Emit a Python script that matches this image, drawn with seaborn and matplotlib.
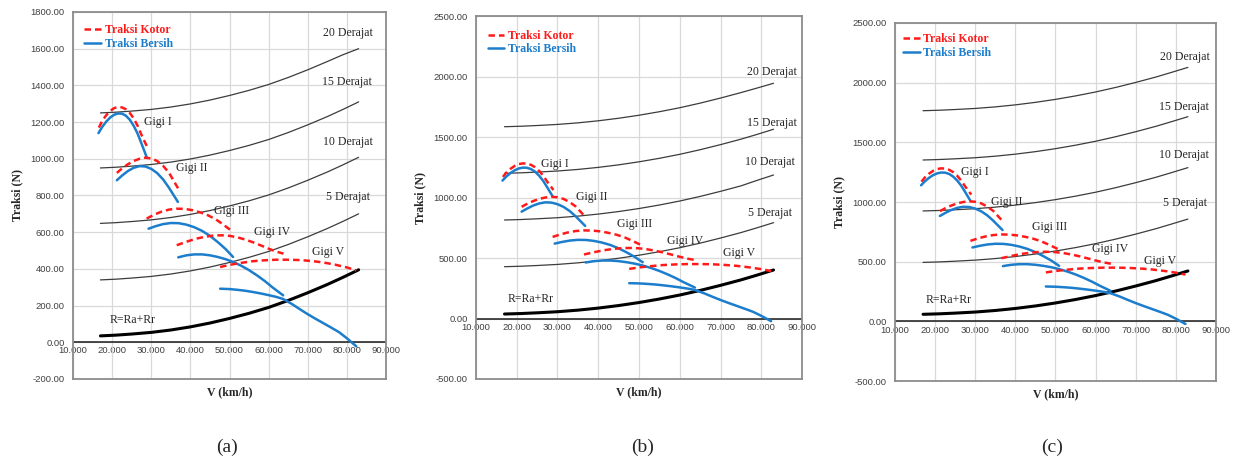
import matplotlib
matplotlib.use("Agg")
import matplotlib.pyplot as plt
import seaborn as sns

# kecepatan untuk kurva tahanan / tanjakan
V_slope = [17, 21, 25, 30, 35, 40, 45, 50, 55, 60, 65, 70, 75, 79, 83]

# panel (a)
R_a = [35, 39, 45, 54, 67, 84, 105, 130, 158, 190, 228, 270, 315, 354, 395]
d5_a = [340, 344, 350, 359, 372, 389, 410, 435, 463, 495, 533, 575, 620, 659, 700]
d10_a = [648, 652, 658, 667, 680, 697, 718, 743, 771, 803, 841, 883, 928, 967, 1008]
d15_a = [950, 954, 960, 969, 982, 999, 1020, 1045, 1073, 1105, 1143, 1185, 1230, 1269, 1310]
d20_a = [1250, 1254, 1260, 1269, 1282, 1299, 1320, 1345, 1373, 1405, 1443, 1485, 1530, 1567, 1600]

# panel (b)
R_b = [37, 41, 47, 56, 69, 86, 107, 132, 161, 194, 232, 274, 319, 359, 401]
d5_b = [428, 432, 438, 447, 460, 477, 498, 523, 552, 585, 623, 665, 710, 750, 792]
d10_b = [814, 818, 824, 833, 846, 863, 884, 909, 938, 971, 1009, 1051, 1096, 1142, 1186]
d15_b = [1200, 1204, 1210, 1219, 1232, 1249, 1270, 1295, 1324, 1357, 1395, 1437, 1482, 1522, 1564]
d20_b = [1585, 1589, 1595, 1604, 1617, 1634, 1655, 1680, 1709, 1742, 1780, 1822, 1867, 1905, 1944]

# panel (c)
R_c = [59, 63, 69, 78, 91, 108, 129, 154, 183, 216, 254, 296, 341, 381, 422]
d5_c = [494, 498, 504, 513, 526, 543, 564, 589, 618, 651, 689, 731, 776, 816, 857]
d10_c = [925, 929, 935, 944, 957, 974, 995, 1020, 1049, 1082, 1120, 1162, 1207, 1247, 1288]
d15_c = [1352, 1356, 1362, 1371, 1384, 1401, 1422, 1447, 1476, 1509, 1547, 1589, 1634, 1674, 1715]
d20_c = [1765, 1769, 1775, 1784, 1797, 1814, 1835, 1860, 1889, 1922, 1960, 2002, 2047, 2087, 2128]

# traksi per gigi (sama untuk ketiga panel)
V1_bersih = [16.5, 17.5, 18.5, 19.5, 20.5, 21.5, 22.5, 23.5, 24.5, 25.5, 26.5, 27.5, 28.8]
T1_bersih = [1140, 1175, 1203, 1225, 1240, 1247, 1246, 1235, 1213, 1180, 1137, 1083, 1010]
V1_kotor = [16.6, 17.5, 18.5, 19.5, 20.5, 21.5, 22.5, 23.5, 24.5, 25.5, 26.5, 27.5, 29.0]
T1_kotor = [1170, 1208, 1238, 1261, 1276, 1282, 1280, 1270, 1250, 1220, 1180, 1130, 1062]

V2_bersih = [21.2, 22.5, 24, 25.5, 27, 28.5, 30, 31.5, 33, 34.5, 36.8]
T2_bersih = [883, 908, 933, 951, 960, 958, 945, 922, 888, 843, 765]
V2_kotor = [21.2, 22.5, 24, 25.5, 27, 28.5, 30, 31.5, 33, 34.5, 36.9]
T2_kotor = [923, 947, 970, 988, 1000, 1006, 1002, 988, 962, 925, 837]

V3_bersih = [29.3, 31, 33, 35, 37, 39, 41, 43, 45, 47, 49, 50.9]
T3_bersih = [619, 632, 644, 650, 649, 641, 627, 607, 580, 546, 508, 465]
V3_kotor = [28.8, 30.5, 32.5, 34.5, 36.5, 38.5, 40.5, 42.5, 44.5, 46.5, 48.5, 50.9]
T3_kotor = [674, 693, 711, 723, 728, 727, 720, 708, 692, 670, 640, 601]

V4_bersih = [36.9, 39, 41, 43, 45, 47, 49, 51, 53, 55, 57, 59, 61, 63.7]
T4_bersih = [463, 474, 479, 479, 474, 465, 453, 437, 417, 393, 365, 334, 299, 256]
V4_kotor = [36.5, 39, 41.5, 44, 46, 48, 50, 52, 54, 56, 58, 60, 62, 63.8]
T4_kotor = [529, 548, 565, 576, 582, 583, 580, 572, 560, 545, 528, 510, 494, 483]

V5_bersih = [47.6, 50, 52, 54, 56, 58, 60, 62, 63.7, 66, 68, 70, 72, 74, 76, 78, 80, 82.4]
T5_bersih = [292, 290, 286, 281, 274, 266, 257, 247, 236, 208, 180, 153, 128, 104, 80, 55, 22, -22]
V5_kotor = [47.6, 50, 53, 56, 59, 62, 65, 68, 71, 74, 77, 80, 82.4]
T5_kotor = [410, 422, 433, 442, 447, 450, 450, 448, 443, 435, 423, 408, 392]

gigi_bersih = [(V1_bersih, T1_bersih), (V2_bersih, T2_bersih), (V3_bersih, T3_bersih),
               (V4_bersih, T4_bersih), (V5_bersih, T5_bersih)]
gigi_kotor = [(V1_kotor, T1_kotor), (V2_kotor, T2_kotor), (V3_kotor, T3_kotor),
              (V4_kotor, T4_kotor), (V5_kotor, T5_kotor)]

x_ticks = [10, 20, 30, 40, 50, 60, 70, 80, 90]
deg_names = ["5 Derajat", "10 Derajat", "15 Derajat", "20 Derajat"]
gigi_names = ["Gigi I", "Gigi II", "Gigi III", "Gigi IV", "Gigi V"]

sns.set_theme(style="white")
plt.rcParams["font.family"] = ["Liberation Serif", "DejaVu Serif"]

panels = [
    dict(tag="(a)", rect=[0.0591, 0.1743, 0.2532, 0.7996], ylim=(-200, 1800), ystep=200,
         R=R_a, deg=[d5_a, d10_a, d15_a, d20_a], cap_x=227,
         deg_pos=[(80.3, 790), (80.3, 1090), (80.0, 1417), (80.3, 1684)],
         gigi_pos=[(31.7, 1199), (40.4, 948), (50.6, 714), (60.9, 600), (75.2, 490)],
         r_pos=(25.1, 120), leg_xy=(0.01, 0.99)),
    dict(tag="(b)", rect=[0.3851, 0.1743, 0.2638, 0.7908], ylim=(-500, 2500), ystep=500,
         R=R_b, deg=[d5_b, d10_b, d15_b, d20_b], cap_x=643,
         deg_pos=[(82.1, 869), (82.1, 1296), (82.6, 1618), (82.6, 2040)],
         gigi_pos=[(29.4, 1274), (38.4, 1007), (49.0, 781), (61.3, 643), (74.6, 539)],
         r_pos=(23.3, 159), leg_xy=(0.01, 0.985)),
    dict(tag="(c)", rect=[0.7241, 0.1699, 0.2597, 0.7800], ylim=(-500, 2500), ystep=500,
         R=R_c, deg=[d5_c, d10_c, d15_c, d20_c], cap_x=1052,
         deg_pos=[(82.3, 989), (81.9, 1394), (81.9, 1799), (82.3, 2213)],
         gigi_pos=[(29.9, 1254), (37.8, 1003), (48.6, 788), (63.6, 606), (76.0, 508)],
         r_pos=(23.3, 179), leg_xy=(0.0, 0.995)),
]

fig = plt.figure(figsize=(12.36, 4.59), dpi=100)

for p in panels:
    ax = fig.add_axes(p["rect"])
    y0, y1 = p["ylim"]

    # kurva tanjakan dan tahanan
    for vals in p["deg"]:
        sns.lineplot(x=V_slope, y=vals, color="#3c3c3c", lw=0.9, ax=ax)
    sns.lineplot(x=V_slope, y=p["R"], color="black", lw=2.2, ax=ax)

    # kurva traksi
    for i, ((vb, tb), (vk, tk)) in enumerate(zip(gigi_bersih, gigi_kotor)):
        sns.lineplot(x=vk, y=tk, color="#ff1a1a", lw=1.8, linestyle=(0, (2.6, 1.6)),
                     label="Traksi Kotor" if i == 0 else None, ax=ax)
        sns.lineplot(x=vb, y=tb, color="#1c7dcc", lw=1.8,
                     label="Traksi Bersih" if i == 0 else None, ax=ax)

    for name, (vx, ty) in zip(deg_names, p["deg_pos"]):
        ax.text(vx, ty, name, ha="center", va="center", fontsize=8.5)
    for name, (vx, ty) in zip(gigi_names, p["gigi_pos"]):
        ax.text(vx, ty, name, ha="center", va="center", fontsize=8.5)
    ax.text(p["r_pos"][0], p["r_pos"][1], "R=Ra+Rr", ha="center", va="center", fontsize=8.5)

    ax.legend(loc="upper left", bbox_to_anchor=p["leg_xy"], frameon=False,
              handlelength=1.4, handletextpad=0.3, labelspacing=0.15,
              prop=dict(family="Liberation Serif", weight="bold", size=8.5),
              labelcolor="linecolor", borderaxespad=0.3)

    ax.set_xlim(10, 90)
    ax.set_ylim(y0, y1)
    yt = list(range(y0, y1 + 1, p["ystep"]))
    ax.set_yticks(yt, labels=[f"{v:.2f}" for v in yt], fontsize=6.8,
                  fontfamily="Liberation Sans", color="#404040")
    ax.set_xticks(x_ticks, labels=[])
    ax.tick_params(length=0, pad=6)
    ax.grid(True, color="#d9d9d9", lw=0.9)
    for s in ax.spines.values():
        s.set_color("#8c8c8c")
        s.set_linewidth(1.3)
    ax.axhline(0, color="#1a1a1a", lw=1.1, zorder=1.6)

    # sumbu x memotong di 0
    sec = ax.secondary_xaxis(-y0 / (y1 - y0))
    sec.set_xticks(x_ticks, labels=[f"{v:.3f}" for v in x_ticks], fontsize=6.8,
                   fontfamily="Liberation Sans", color="#404040")
    sec.tick_params(length=0, pad=3)
    sec.spines["bottom"].set_visible(False)

    ax.set_xlabel("V (km/h)", fontweight="bold", fontsize=8.5, labelpad=-1)
    ax.set_ylabel("Traksi (N)", fontweight="bold", fontsize=8.5, labelpad=5)

    fig.text(p["cap_x"] / 1236, 1 - 447 / 459, p["tag"], ha="center", va="center",
             fontsize=14)

fig.savefig("out.png", dpi=100)
